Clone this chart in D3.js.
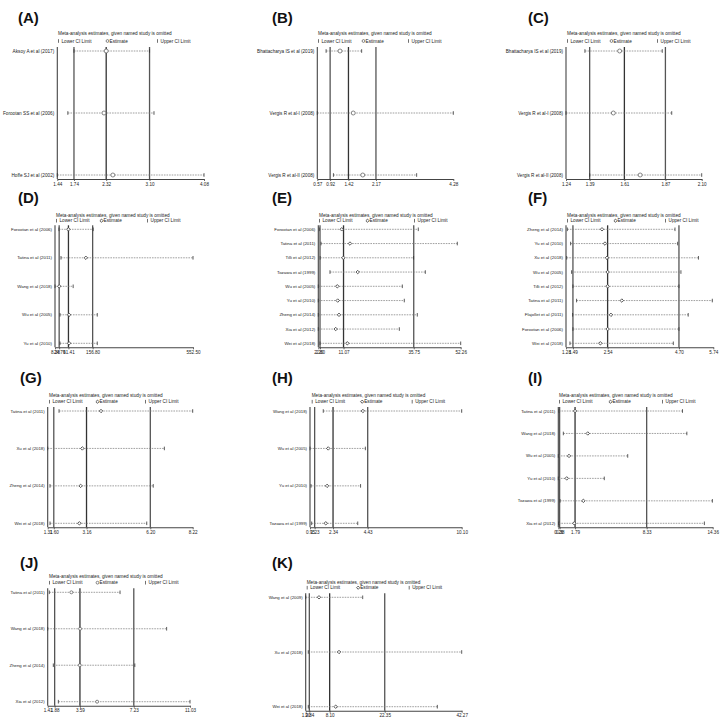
<!DOCTYPE html>
<html><head><meta charset="utf-8">
<script src="https://cdn.jsdelivr.net/npm/d3@7/dist/d3.min.js"></script>
<style>
html,body{margin:0;padding:0;background:#fff;}
svg{display:block;font-family:"Liberation Sans",Arial,sans-serif;}
</style></head>
<body>
<svg id="chart" width="720" height="722"></svg>
<script>
// ---------------- DATA ----------------
const studiesA = ["Aksoy A et al (2017)", "Forootan SS et al (2006)", "Hoffe SJ et al (2002)"];
const lowerA = [1.74, 1.63, 1.44];
const estA   = [2.32, 2.28, 2.44];
const upperA = [3.10, 3.18, 4.08];
const ticksA = ["1.44", "1.74", "2.32", "3.10", "4.08"];

const studiesB = ["Bhattacharya IS et al (2019)", "Vergis R et al-I (2008)", "Vergis R et al-II (2008)"];
const lowerB = [0.81, 0.57, 1.01];
const estB   = [1.19, 1.55, 1.81];
const upperB = [1.78, 4.28, 3.28];
const ticksB = ["0.57", "0.92", "1.42", "2.17", "4.28"];

const studiesC = ["Bhattacharya IS et al (2019)", "Vergis R et al-I (2008)", "Vergis R et al-II (2008)"];
const lowerC = [1.36, 1.24, 1.39];
const estC   = [1.58, 1.54, 1.71];
const upperC = [1.85, 1.91, 2.10];
const ticksC = ["1.24", "1.39", "1.61", "1.87", "2.10"];

const studiesD = ["Forootan et al (2006)", "Tatina et al (2011)", "Wang et al (2018)", "Wu et al (2005)", "Yu et al (2010)"];
const lowerD = [24.0, 32.0, 8.38, 28.0, 28.0];
const estD   = [61.0, 130.0, 25.0, 64.0, 64.0];
const upperD = [159.0, 552.5, 80.0, 175.0, 175.0];
const ticksD = ["8.38", "24.79", "61.41", "156.80", "552.50"];

const studiesE = ["Forootan et al (2006)", "Tatina et al (2011)", "Tilli et al (2012)", "Tozawa et al (1999)", "Wu et al (2005)", "Yu et al (2010)", "Zheng et al (2014)", "Xia et al (2012)", "Wei et al (2018)"];
const lowerE = [2.55, 3.15, 2.85, 6.31, 2.20, 2.20, 2.20, 2.20, 2.80];
const estE   = [10.43, 13.34, 11.0, 16.05, 8.88, 9.02, 9.48, 8.32, 12.4];
const upperE = [37.35, 51.06, 35.7, 39.82, 31.73, 32.43, 37.0, 30.68, 52.26];
const ticksE = ["2.20", "2.80", "11.07", "35.75", "52.26"];

const studiesF = ["Zheng et al (2014)", "Yu et al (2010)", "Xu et al (2018)", "Wu et al (2005)", "Tilli et al (2012)", "Tatina et al (2011)", "Flajollet et al (2011)", "Forootan et al (2006)", "Wei et al (2018)"];
const lowerF = [1.32, 1.42, 1.30, 1.45, 1.49, 1.60, 1.48, 1.49, 1.40];
const estF   = [2.37, 2.46, 2.52, 2.54, 2.54, 2.97, 2.64, 2.54, 2.32];
const upperF = [4.58, 4.66, 5.29, 4.76, 4.70, 5.71, 4.98, 4.70, 4.53];
const ticksF = ["1.28", "1.49", "2.54", "4.70", "5.74"];

const studiesG = ["Tatina et al (2011)", "Xu et al (2018)", "Zheng et al (2014)", "Wei et al (2018)"];
const lowerG = [1.85, 1.31, 1.42, 1.42];
const estG   = [3.85, 2.96, 2.88, 2.82];
const upperG = [8.22, 6.87, 6.34, 6.03];
const ticksG = ["1.31", "1.60", "3.16", "6.20", "8.22"];

const studiesH = ["Wang et al (2018)", "Wu et al (2005)", "Yu et al (2010)", "Tozawa et al (1999)"];
const lowerH = [1.75, 0.95, 1.01, 1.05];
const estH   = [4.14, 2.05, 1.98, 1.90];
const upperH = [10.10, 4.29, 4.00, 3.83];
const ticksH = ["0.95", "1.23", "2.34", "4.43", "10.10"];

const studiesI = ["Tatina et al (2011)", "Wang et al (2018)", "Wu et al (2005)", "Yu et al (2010)", "Tozawa et al (1999)", "Xia et al (2012)"];
const lowerI = [0.32, 0.72, 0.26, 0.26, 0.42, 0.30];
const estI   = [1.79, 2.95, 1.24, 1.03, 2.55, 1.72];
const upperI = [11.6, 12.0, 6.6, 4.46, 14.33, 13.6];
const ticksI = ["0.26", "0.38", "1.79", "8.33", "14.36"];

const studiesJ = ["Tatina et al (2011)", "Wang et al (2018)", "Zheng et al (2014)", "Xia et al (2012)"];
const lowerJ = [1.52, 1.41, 1.79, 2.13];
const estJ   = [3.01, 3.60, 3.58, 4.75];
const upperJ = [6.30, 9.45, 7.30, 11.03];
const ticksJ = ["1.41", "1.88", "3.59", "7.23", "11.03"];

const studiesK = ["Wang et al (2009)", "Xu et al (2018)", "Wei et al (2018)"];
const lowerK = [1.90, 2.57, 2.57];
const estK   = [5.34, 10.52, 9.66];
const upperK = [16.65, 42.27, 35.96];
const ticksK = ["1.90", "2.84", "8.10", "22.35", "42.27"];

const titleText = "Meta-analysis estimates, given named study is omitted";
const legendTexts = ["Lower CI Limit", "Estimate", "Upper CI Limit"];

// ---------------- LAYOUT ----------------
const panels = [
  {id:"(A)", d:[studiesA,lowerA,estA,upperA,ticksA], lx:18, ly:23, tx:58, ty:33, lgy:41, lgdx:[0,48,99], x0:57.3, x1:204, yF:51, yL:175, mk:"circle", fs:4.7},
  {id:"(B)", d:[studiesB,lowerB,estB,upperB,ticksB], lx:272, ly:23, tx:318, ty:33, lgy:41, lgdx:[0,44,90], x0:317.3, x1:453.3, yF:51, yL:175, mk:"circle", fs:4.6},
  {id:"(C)", d:[studiesC,lowerC,estC,upperC,ticksC], lx:528, ly:23, tx:567, ty:33, lgy:41, lgdx:[0,43,90], x0:566, x1:701.7, yF:51, yL:175, mk:"circle", fs:4.6},
  {id:"(D)", d:[studiesD,lowerD,estD,upperD,ticksD], lx:18, ly:203, tx:56, ty:215, lgy:220.7, lgdx:[0,44,91], x0:55, x1:193, yF:229.3, yL:343.3, mk:"diamond", fs:4.4},
  {id:"(E)", d:[studiesE,lowerE,estE,upperE,ticksE], lx:272, ly:203, tx:319, ty:215, lgy:220.7, lgdx:[0,47,95], x0:318.3, x1:460.7, yF:229.3, yL:343.3, mk:"diamond", fs:4.4},
  {id:"(F)", d:[studiesF,lowerF,estF,upperF,ticksF], lx:528, ly:203, tx:567, ty:215, lgy:220.7, lgdx:[0,47,98], x0:566, x1:713.3, yF:229.3, yL:343.3, mk:"diamond", fs:4.4},
  {id:"(G)", d:[studiesG,lowerG,estG,upperG,ticksG], lx:20, ly:383, tx:49, ty:395.7, lgy:401.7, lgdx:[0,47,96], x0:47.7, x1:192.7, yF:411, yL:523.3, mk:"diamond", fs:4.3},
  {id:"(H)", d:[studiesH,lowerH,estH,upperH,ticksH], lx:272, ly:383, tx:311.7, ty:395.7, lgy:401.7, lgdx:[0,49,100], x0:310, x1:461.7, yF:411, yL:523.3, mk:"diamond", fs:4.3},
  {id:"(I)", d:[studiesI,lowerI,estI,upperI,ticksI], lx:528, ly:383, tx:559, ty:395.7, lgy:401.7, lgdx:[0,50,103], x0:558.3, x1:712.7, yF:411, yL:523.3, mk:"diamond", fs:4.3},
  {id:"(J)", d:[studiesJ,lowerJ,estJ,upperJ,ticksJ], lx:20, ly:568, tx:49, ty:576.7, lgy:582.7, lgdx:[0,47,96], x0:47.7, x1:190, yF:592.3, yL:701.7, mk:"circle", fs:4.3},
  {id:"(K)", d:[studiesK,lowerK,estK,upperK,ticksK], lx:272, ly:568, tx:306.7, ty:582.3, lgy:587.7, lgdx:[0,50,102], x0:305.7, x1:461.7, yF:597.3, yL:706.7, mk:"diamond", fs:4.3}
];

const svg = d3.select("#chart");
const INK = "#222";

function marker(sel, type, cx, cy, r) {
  if (type === "circle") {
    sel.append("circle").attr("cx", cx).attr("cy", cy).attr("r", r)
      .attr("fill", "#fff").attr("stroke", "#555").attr("stroke-width", 0.7);
  } else {
    const s = r * 1.15;
    sel.append("path")
      .attr("d", `M${cx},${cy - s}L${cx + s},${cy}L${cx},${cy + s}L${cx - s},${cy}Z`)
      .attr("fill", "#fff").attr("stroke", "#333").attr("stroke-width", 0.8);
  }
}

panels.forEach(p => {
  const [studies, lower, est, upper, ticks] = p.d;
  const g = svg.append("g");
  const tv = ticks.map(Number);
  const x = d3.scaleLinear().domain([tv[0], tv[4]]).range([p.x0, p.x1]);
  const y = d3.scalePoint().domain(studies).range([p.yF, p.yL]);
  const top = p.yF - 4, bottom = p.yL + 4;

  // panel label
  g.append("text").attr("x", p.lx).attr("y", p.ly).text(p.id)
    .attr("font-size", 15).attr("font-weight", "bold").attr("fill", "#111");

  // title + legend
  g.append("text").attr("x", p.tx).attr("y", p.ty).attr("dy", "0.35em")
    .attr("font-size", 4.7).attr("fill", INK).text(titleText);
  legendTexts.forEach((t, i) => {
    const lx = p.tx + p.lgdx[i];
    if (i === 1) {
      marker(g, p.mk, lx + 1.5, p.lgy, 1.4);
    } else {
      g.append("line").attr("x1", lx + 0.5).attr("x2", lx + 0.5)
        .attr("y1", p.lgy - 1.8).attr("y2", p.lgy + 1.8)
        .attr("stroke", "#333").attr("stroke-width", 0.7);
    }
    g.append("text").attr("x", lx + 3.5).attr("y", p.lgy).attr("dy", "0.35em")
      .attr("font-size", 4.7).attr("fill", INK).text(t);
  });

  // reference lines (overall lower / estimate / upper)
  [tv[1], tv[2], tv[3]].forEach((v, i) => {
    g.append("line").attr("x1", x(v)).attr("x2", x(v)).attr("y1", top).attr("y2", bottom)
      .attr("stroke", i === 1 ? "#333" : "#555").attr("stroke-width", 1.3);
  });

  // left axis line
  g.append("line").attr("x1", p.x0).attr("x2", p.x0).attr("y1", top).attr("y2", bottom)
    .attr("stroke", "#444").attr("stroke-width", 1.1);

  // bottom axis
  const ax = d3.axisBottom(x).tickValues(tv).tickFormat((v, i) => ticks[i])
    .tickSize(2).tickSizeOuter(0).tickPadding(1.5);
  const axg = g.append("g").attr("transform", `translate(0,${bottom})`).call(ax);
  axg.select(".domain").attr("stroke", "#444").attr("stroke-width", 1.1);
  axg.selectAll(".tick line").attr("stroke", "#444").attr("stroke-width", 0.8);
  axg.selectAll(".tick text").attr("font-size", 4.6).attr("fill", INK)
    .attr("font-family", "'Liberation Sans',Arial,sans-serif");

  // rows
  studies.forEach((s, i) => {
    const yy = y(s);
    g.append("text").attr("x", p.x0 - 3).attr("y", yy).attr("dy", "0.35em")
      .attr("text-anchor", "end").attr("font-size", p.fs).attr("fill", INK).text(s);
    g.append("line").attr("x1", x(lower[i])).attr("x2", x(upper[i])).attr("y1", yy).attr("y2", yy)
      .attr("stroke", "#777").attr("stroke-width", 0.7).attr("stroke-dasharray", "1.6,1");
    [lower[i], upper[i]].forEach(v => {
      g.append("line").attr("x1", x(v)).attr("x2", x(v)).attr("y1", yy - 1.8).attr("y2", yy + 1.8)
        .attr("stroke", "#333").attr("stroke-width", 0.8);
    });
    marker(g, p.mk, x(est[i]), yy, p.mk === "circle" && p.id !== "(J)" ? 2 : 1.5);
  });
});
</script>
</body></html>
